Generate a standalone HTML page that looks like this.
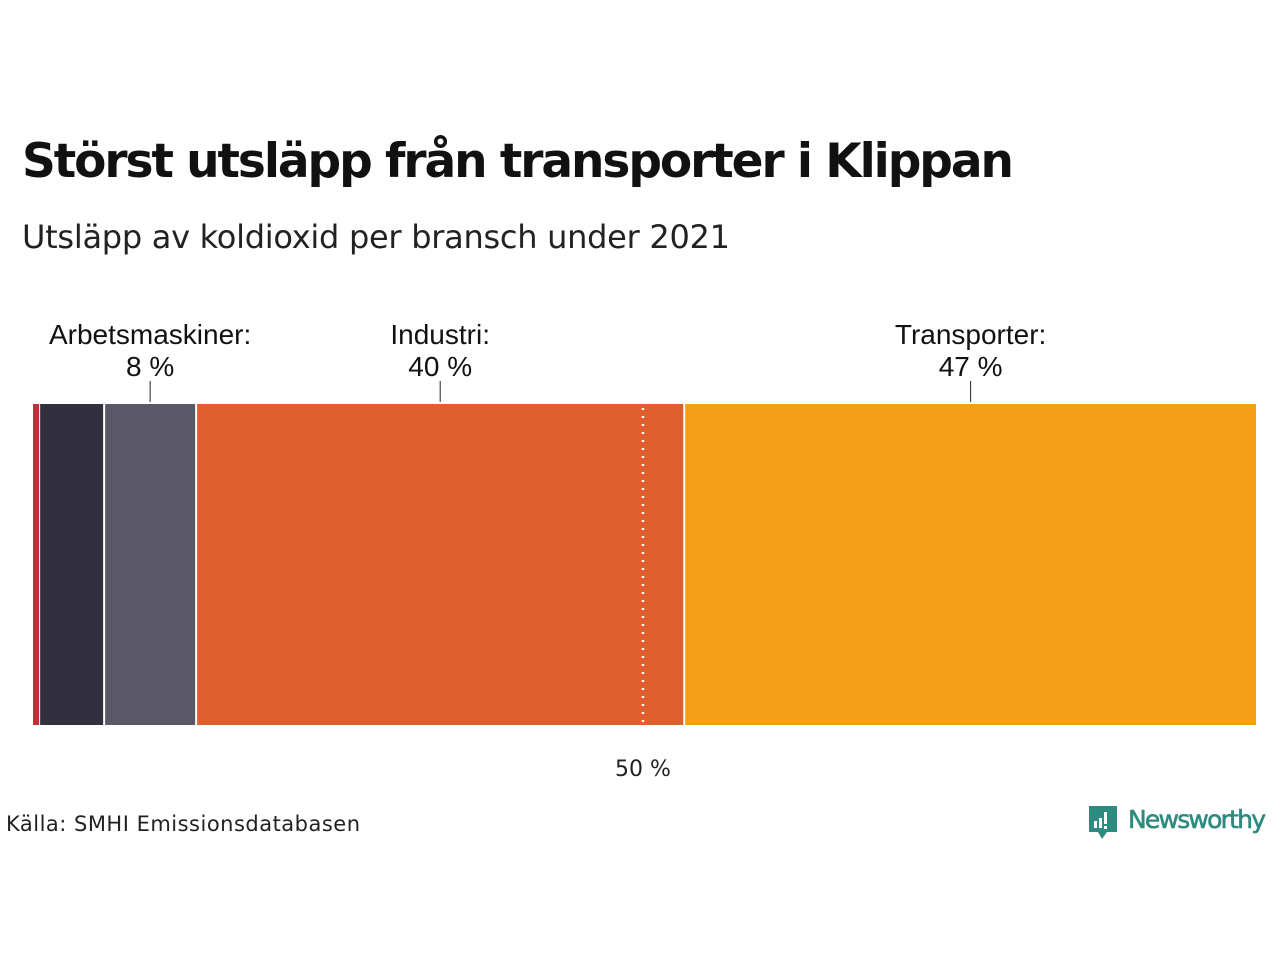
<!DOCTYPE html>
<html><head><meta charset="utf-8"><style>
body{margin:0;background:#fff;width:1280px;height:960px;overflow:hidden;font-family:"Liberation Sans",sans-serif}
</style></head><body>
<svg width="1280" height="960" xmlns="http://www.w3.org/2000/svg">
<text x="22" y="177" font-size="47" font-weight="bold" fill="#111" font-family="DejaVu Sans, Liberation Sans, sans-serif" textLength="992">Störst utsläpp från transporter i Klippan</text>
<text x="22" y="248" font-size="32" fill="#222" font-family="DejaVu Sans, Liberation Sans, sans-serif" textLength="708">Utsläpp av koldioxid per bransch under 2021</text>
<g id="bars"></g>
<g id="labels"></g>
<text x="643" y="776" font-size="22" text-anchor="middle" fill="#222" font-family="DejaVu Sans, sans-serif">50 %</text>
<text x="6" y="831" font-size="21" fill="#222" font-family="DejaVu Sans, sans-serif" textLength="354">Källa: SMHI Emissionsdatabasen</text>
<g>
<path d="M1089 806h28v26h-10l-5 7-4-7h-9z" fill="#2e8b7f"/>
<rect x="1094" y="821" width="3" height="7" fill="#fff"/><rect x="1099" y="818" width="3" height="10" fill="#fff"/><rect x="1104" y="812" width="3" height="12" fill="#fff"/><rect x="1104" y="826" width="3" height="3" fill="#fff"/>
<text x="1128" y="828" font-size="25" fill="#2e8b7f" stroke="#2e8b7f" stroke-width="0.6" font-family="DejaVu Sans, sans-serif" textLength="138">Newsworthy</text>
</g>
</svg>
<script>
const categories=["Övrigt","Egen uppvärmning","Arbetsmaskiner","Industri","Transporter"];
const values=[0.5,5.3,7.5,39.8,46.7];
const colors=["#c0303a","#32303e","#5a5866","#e05f2f","#f59e1a"];
const labelShown=[false,false,true,true,true];
const total=values.reduce((a,b)=>a+b,0);
const X0=33,W=1224,Y0=404,H=321;
const x=v=>X0+v/total*W;
const NS="http://www.w3.org/2000/svg";
const gb=document.getElementById('bars'),gl=document.getElementById('labels');
let cum=0;
values.forEach((v,i)=>{
 const r=document.createElementNS(NS,'rect');
 const a=x(cum),b=x(cum+v);
 r.setAttribute('x',a+(i?1:0));r.setAttribute('y',Y0);
 r.setAttribute('width',Math.max(1,b-a-(i?2:0)));r.setAttribute('height',H);
 r.setAttribute('fill',colors[i]);
 
 
 gb.appendChild(r);
 if(labelShown[i]){
  const c=(a+b)/2;
  const t=document.createElementNS(NS,'text');
  t.setAttribute('x',c);t.setAttribute('y',344);t.setAttribute('font-size','28');t.setAttribute('text-anchor','middle');t.setAttribute('fill','#111');
  
  
  t.innerHTML='<tspan x="'+c+'">'+categories[i]+':</tspan><tspan x="'+c+'" dy="32">'+Math.round(v)+' %</tspan>';
  gl.appendChild(t);
  const l=document.createElementNS(NS,'line');
  l.setAttribute('x1',c);l.setAttribute('x2',c);l.setAttribute('y1',381);l.setAttribute('y2',402);l.setAttribute('stroke','#222');
  
  
  gl.appendChild(l);
 }
 cum+=v;
});
const d=document.createElementNS(NS,'line');
const mx=x(total/2)-2;
d.setAttribute('x1',mx);d.setAttribute('x2',mx);d.setAttribute('y1',Y0+4);d.setAttribute('y2',Y0+H);
d.setAttribute('stroke','#fff');d.setAttribute('stroke-width','2.5');d.setAttribute('stroke-dasharray','2 6');


gb.appendChild(d);
</script>
</body></html>
